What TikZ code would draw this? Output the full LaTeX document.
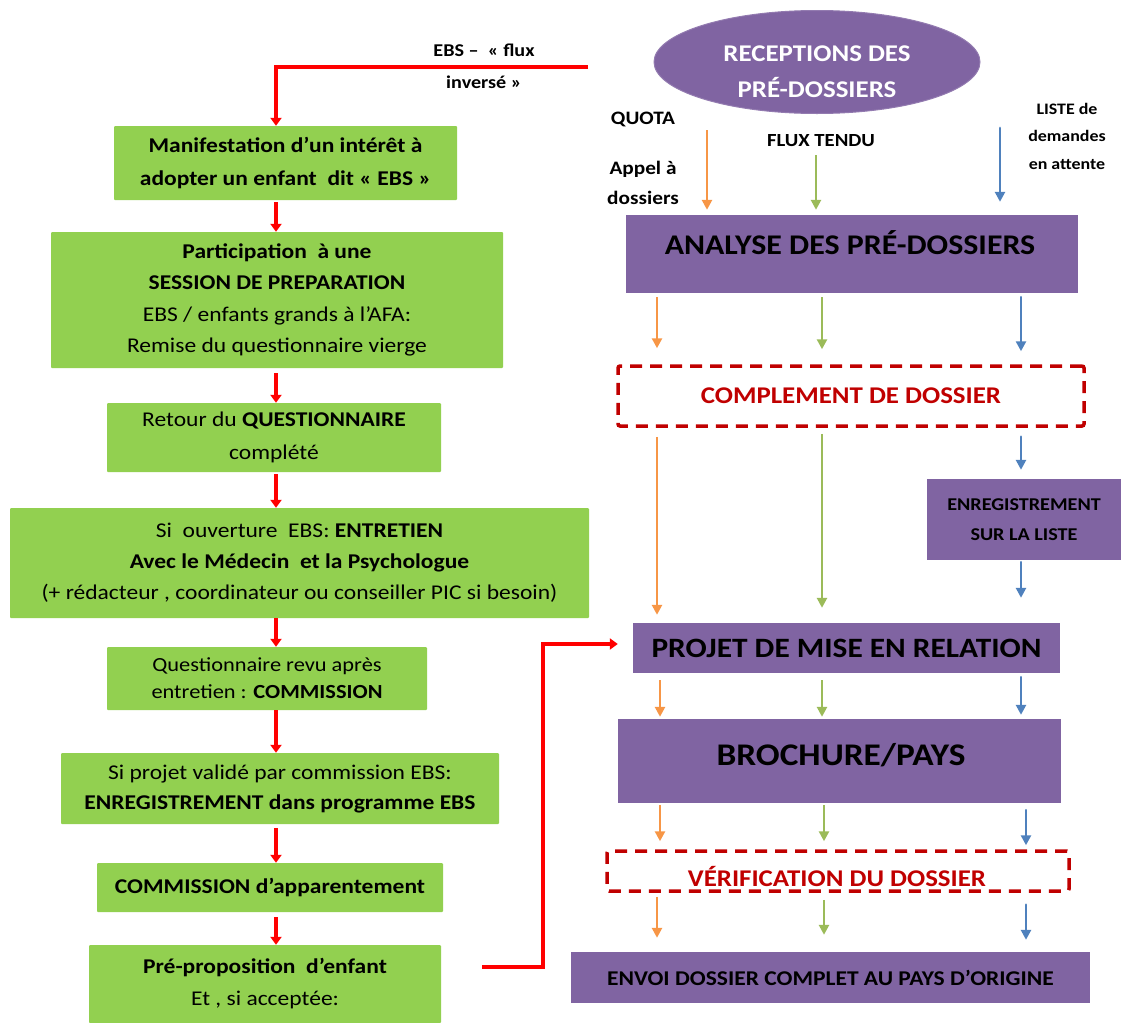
\documentclass[tikz,border=0pt]{standalone}
\usepackage{fontspec}
\setmainfont{Carlito}[FakeStretch=1.12]
\usetikzlibrary{arrows.meta,shapes.geometric}
\definecolor{gfill}{HTML}{92D050}
\definecolor{pfill}{HTML}{8064A2}
\definecolor{dred}{HTML}{C00000}
\definecolor{aor}{HTML}{F79646}
\definecolor{agr}{HTML}{9BBB59}
\definecolor{abl}{HTML}{4F81BD}
\definecolor{rline}{HTML}{FF0000}
\newcommand\fsz[2]{\fontsize{#1}{#2}\selectfont}
\begin{document}
\begin{tikzpicture}[x=1pt,y=-1pt,
  gbox/.style={fill=gfill, draw=none, rounded corners=1pt, inner sep=0pt, align=center, text=black},
  pbox/.style={fill=pfill, draw=none, inner sep=0pt, align=center, text=black},
  dbox/.style={draw=dred, line width=3.5pt, dash pattern=on 12pt off 8pt, rounded corners=2pt, inner sep=0pt, align=center, text=dred},
  lbl/.style={inner sep=0pt, align=center, text=black},
  rarr/.style={draw=rline, line width=3.3pt, -{Triangle[length=8pt,width=11pt]}},
  oarr/.style={draw=aor, line width=2.9pt, -{Triangle[length=10pt,width=10pt]}},
  garr/.style={draw=agr, line width=2.9pt, -{Triangle[length=10pt,width=10pt]}},
  barr/.style={draw=abl, line width=2.9pt, line cap=round, -{Triangle[length=10pt,width=10pt]}}
]
\useasboundingbox (0,0) rectangle (1125,1023);

% ---------- left column ----------
\node[gbox, minimum width=343pt, minimum height=74pt, font={\fsz{21}{33}\bfseries}] (b1) at (285.5,163)
  {Manifestation d’un intérêt à\\adopter\ un enfant\ \ dit « EBS »};
\node[gbox, minimum width=452pt, minimum height=136pt, font={\fsz{21}{31.5}}] (b2) at (277,300)
  {\textbf{Participation\ \ à une}\\\textbf{SESSION DE PREPARATION}\\EBS / enfants grands à l’AFA:\\Remise du questionnaire vierge};
\node[gbox, minimum width=334pt, minimum height=69pt, font={\fsz{21}{33}}] (b3) at (274,437.5)
  {Retour du \textbf{QUESTIONNAIRE}\\complété};
\node[gbox, minimum width=579pt, minimum height=110pt, font={\fsz{21}{31}}] (b4) at (299.5,563)
  {Si\ \ ouverture\ \ EBS: \textbf{ENTRETIEN}\\\textbf{Avec le Médecin\ \ et la Psychologue}\\(+ rédacteur , coordinateur ou conseiller PIC si besoin)};
\node[gbox, minimum width=320pt, minimum height=63pt, font={\fsz{20}{27}}] (b5) at (267,678.5)
  {Questionnaire revu après\\entretien : \textbf{COMMISSION}};
\node[gbox, minimum width=438pt, minimum height=71pt, font={\fsz{21}{30}}] (b6) at (280,788.5)
  {Si projet validé par commission EBS:\\\textbf{ENREGISTREMENT dans programme EBS}};
\node[gbox, minimum width=346pt, minimum height=49pt, font={\fsz{21}{30}\bfseries}] (b7) at (270,887.5)
  {COMMISSION d’apparentement};
\node[gbox, minimum width=352pt, minimum height=78pt, font={\fsz{21}{32}}] (b8) at (265,984)
  {\textbf{Pré-proposition\ \ d’enfant}\\Et , si acceptée:};

\coordinate (lx) at (276,0);
\draw[rarr, shorten <=2pt] (b1.south -| lx) -- (b2.north -| lx);
\draw[rarr, shorten <=5pt] (b2.south -| lx) -- (b3.north -| lx);
\draw[rarr, shorten <=2pt] (b3.south -| lx) -- (b4.north -| lx);
\draw[rarr, shorten <=0pt] (b4.south -| lx) -- (b5.north -| lx);
\draw[rarr, shorten <=0pt] (b5.south -| lx) -- (b6.north -| lx);
\draw[rarr, shorten <=4pt] (b6.south -| lx) -- (b7.north -| lx);
\draw[rarr, shorten <=5pt] (b7.south -| lx) -- (b8.north -| lx);

% EBS flux inverse connector
\coordinate (ebs) at (588,67);
\draw[rarr] (ebs) -- (ebs -| lx) -- (b1.north -| lx);
\node[lbl, font={\fsz{18}{32}\bfseries}] (ebst) at (484,66) {EBS –\ \ « flux\\inversé »};

% ---------- right column ----------
\node[ellipse, fill=pfill, draw=pfill!85!white, line width=1pt, minimum width=326pt, minimum height=103pt, inner sep=0pt] (rec) at (817,62) {};
\node[lbl, text=white, font={\fsz{24}{36}\bfseries}] (rect) at (817,72) {RECEPTIONS DES\\PRÉ-DOSSIERS};

\node[lbl, font={\fsz{19}{30}\bfseries}] (quota) at (643,119) {QUOTA};
\node[lbl, font={\fsz{19}{30}\bfseries}] (appel) at (643,183) {Appel à\\dossiers};
\node[lbl, font={\fsz{18.5}{30}\bfseries}] (flux) at (821,141) {FLUX TENDU};
\node[lbl, font={\fsz{16}{27.5}\bfseries}] (liste) at (1067,136) {LISTE de\\demandes\\en attente};

\node[pbox, minimum width=452pt, minimum height=78pt] (an) at (852,254) {};
\node[lbl, anchor=base, font={\fsz{28.5}{34}\bfseries}] (ant) at (850,254) {ANALYSE DES PRÉ-DOSSIERS};

\coordinate (tO) at (707,130);
\coordinate (tG) at (816,155);
\coordinate (tB) at (1000,128);
\draw[oarr, shorten >=5pt] (tO) -- (tO |- an.north);
\draw[garr, shorten >=5pt] (tG) -- (tG |- an.north);
\draw[barr, shorten >=13pt] (tB) -- (tB |- an.north);

\node[dbox, minimum width=466pt, minimum height=60pt, font={\fsz{24}{30}\bfseries}] (cpl) at (851,396) {COMPLEMENT DE DOSSIER};

\node[pbox, minimum width=194pt, minimum height=81pt, font={\fsz{18}{30}\bfseries}] (enr) at (1024,519.5) {ENREGISTREMENT\\SUR LA LISTE};

\node[pbox, minimum width=427pt, minimum height=50pt, font={\fsz{28}{34}\bfseries}] (pm) at (846.5,648) {PROJET DE MISE EN RELATION};

\node[pbox, minimum width=443pt, minimum height=84pt] (br) at (839.5,761) {};
\node[lbl, anchor=base, font={\fsz{31.5}{36}\bfseries}] (brt) at (841,765) {BROCHURE/PAYS};

\node[dbox, minimum width=462pt, minimum height=40pt] (vb) at (838,871) {};
\node[lbl, anchor=base, text=dred, font={\fsz{24}{30}\bfseries}] (vbt) at (837,886) {VÉRIFICATION DU DOSSIER};

\node[pbox, minimum width=519pt, minimum height=51pt, font={\fsz{21}{30}\bfseries}] (env) at (830.5,977.5) {ENVOI DOSSIER COMPLET AU PAYS D’ORIGINE};

% column coordinates
\coordinate (cO) at (657,0);
\coordinate (cG) at (822,0);
\coordinate (cB) at (1021,0);
\coordinate (cO2) at (660,0);
\coordinate (cG2) at (824,0);
\coordinate (cB2) at (1026,0);

% analyse -> complement
\draw[oarr, shorten <=4pt, shorten >=16pt] (an.south -| cO) -- (cpl.north -| cO);
\draw[garr, shorten <=4pt, shorten >=15pt] (an.south -| cG) -- (cpl.north -| cG);
\draw[barr, shorten <=4pt, shorten >=13pt] (an.south -| cB) -- (cpl.north -| cB);
% complement -> projet / enregistrement
\draw[oarr, shorten <=9pt, shorten >=8pt] (cpl.south -| cO) -- (pm.north -| cO);
\draw[garr, shorten <=6pt, shorten >=15pt] (cpl.south -| cG) -- (pm.north -| cG);
\draw[barr, shorten <=9pt, shorten >=9pt] (cpl.south -| cB) -- (enr.north -| cB);
\draw[barr, shorten <=2pt, shorten >=25pt] (enr.south -| cB) -- (pm.north -| cB);
% projet -> brochure
\draw[oarr, shorten <=7pt, shorten >=2pt] (pm.south -| cO2) -- (br.north -| cO2);
\draw[garr, shorten <=7pt, shorten >=2pt] (pm.south -| cG) -- (br.north -| cG);
\draw[barr, shorten <=4pt, shorten >=4pt] (pm.south -| cB) -- (br.north -| cB);
% brochure -> verification
\draw[oarr, shorten <=2pt, shorten >=8pt] (br.south -| cO2) -- (vb.north -| cO2);
\draw[garr, shorten <=2pt, shorten >=8pt] (br.south -| cG2) -- (vb.north -| cG2);
\draw[barr, shorten <=7pt, shorten >=4pt] (br.south -| cB2) -- (vb.north -| cB2);
% verification -> envoi
\draw[oarr, shorten <=4pt, shorten >=14pt] (vb.south -| cO) -- (env.north -| cO);
\draw[garr, shorten <=7pt, shorten >=17pt] (vb.south -| cG2) -- (env.north -| cG2);
\draw[barr, shorten <=12pt, shorten >=12pt] (vb.south -| cB2) -- (env.north -| cB2);

% pre-proposition -> projet
\coordinate (pps) at (482,967);
\coordinate (ppv) at (543,644);
\draw[rarr, shorten >=15pt] (pps) -| (ppv) -- (ppv -| pm.west);
\end{tikzpicture}
\end{document}
